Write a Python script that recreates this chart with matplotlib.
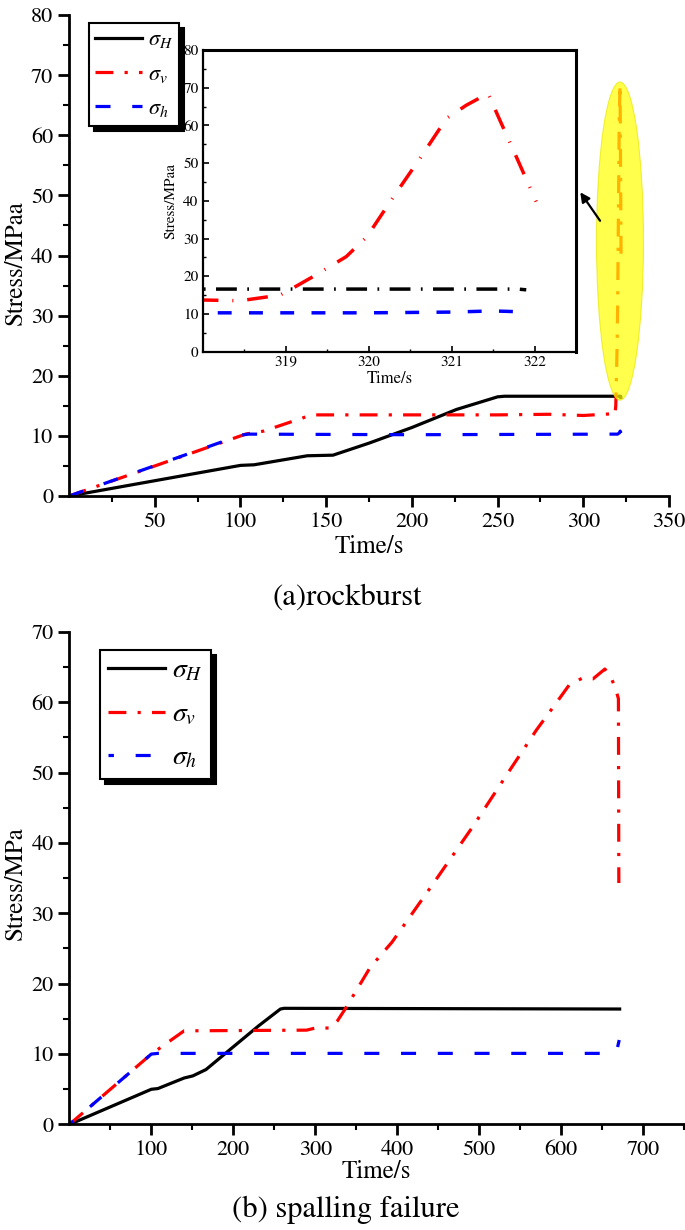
"""
Stress paths for the rockburst and spalling failure tests
Output: out.png
"""

import matplotlib.pyplot as plt
from matplotlib.patches import Ellipse

# Times-like text: STIX ships with matplotlib
plt.rcParams['font.family'] = ['STIXGeneral', 'Liberation Serif', 'DejaVu Serif']
plt.rcParams['mathtext.fontset'] = 'stix'

# ---------- (a) rockburst ----------
a_t_H = [0, 100, 108, 139, 154, 175, 200, 226, 250, 254, 318, 321.8, 321.9]
a_H = [0, 5.1, 5.2, 6.7, 6.8, 8.8, 11.4, 14.4, 16.5, 16.6, 16.6, 16.6, 16.4]

a_t_v = [0, 103, 113.5, 141.6, 200, 250, 280, 300, 318.0, 318.45, 318.93, 319.05,
         319.33, 319.73, 319.98, 320.30, 320.62, 320.94, 321.18, 321.44, 321.58,
         321.78, 322.02]
a_v = [0, 10.3, 10.8, 13.5, 13.5, 13.5, 13.6, 13.4, 13.7, 13.5, 15.0, 16.4,
       19.9, 25.2, 30.5, 41.1, 51.3, 61.9, 65.4, 68.5, 61.5, 51.7, 39.8]

a_t_h = [0, 100, 104.5, 200, 318.0, 319.0, 320.0, 321.0, 321.5, 321.94]
a_h = [0, 10.1, 10.3, 10.2, 10.3, 10.3, 10.3, 10.5, 10.8, 10.5]

# ---------- (b) spalling failure ----------
b_t_H = [0, 100, 108, 140, 150.6, 166.7, 198.7, 230.8, 257.5, 262, 671.5]
b_H = [0, 5.0, 5.1, 6.6, 6.9, 7.8, 10.9, 14.0, 16.4, 16.5, 16.4]

b_t_v = [0, 100, 140, 289.5, 300, 319, 327, 337.6, 367, 393.7, 441.5, 492.2,
         535, 569.7, 593.6, 609.7, 625.7, 639, 653.5, 660.4, 665.7, 670, 670.5]
b_v = [0, 10.0, 13.3, 13.4, 13.7, 13.7, 14.7, 16.6, 22.3, 25.9, 33.8, 42.3,
       49.9, 56.0, 59.8, 62.4, 63.4, 63.3, 64.7, 63.6, 62.2, 60.5, 34.3]

b_t_h = [0, 100, 108, 665, 669, 671]
b_h = [0, 10.0, 10.1, 10.1, 11.0, 12.0]

labels = [r'$\sigma_H$', r'$\sigma_v$', r'$\sigma_h$']

LW = 2.3
ls_H = '-'
ls_v = (0, (5.6, 3.5, 1, 3.5))
ls_h = (0, (4.7, 6.8))

fig = plt.figure(figsize=(6.85, 12.3), dpi=100)


def style_main(ax):
    for s in ['top', 'right']:
        ax.spines[s].set_visible(False)
    for s in ['left', 'bottom']:
        ax.spines[s].set_linewidth(2)
    ax.tick_params(which='major', direction='out', length=8, width=2, labelsize=16)
    ax.tick_params(which='minor', direction='out', length=4, width=1.5)


def add_legend(ax, anchor, fs, hl, sp):
    leg = ax.legend(labels, loc='upper left', bbox_to_anchor=anchor, borderaxespad=0,
                    fontsize=fs, handlelength=hl, fancybox=False, frameon=True,
                    edgecolor='black', framealpha=1, labelspacing=sp,
                    handletextpad=0.25, borderpad=0.3,
                    shadow={'ox': 3.5, 'oy': -3.5, 'color': 'black', 'alpha': 1})
    leg.get_frame().set_linewidth(1.5)
    return leg


# ========== Panel (a) ==========
ax1 = fig.add_axes([0.1007, 0.5967, 0.876, 0.3911])
ax1.plot(a_t_H, a_H, color='black', lw=LW, ls=ls_H)
ax1.plot(a_t_v, a_v, color='red', lw=LW, ls=ls_v)
ax1.plot(a_t_h, a_h, color='blue', lw=LW, ls=ls_h)
ax1.set_xlim(0, 350)
ax1.set_ylim(0, 80)
ax1.set_xticks(range(50, 351, 50))
ax1.set_xticks(range(25, 351, 50), minor=True)
ax1.set_yticks(range(0, 81, 10))
ax1.set_yticks(range(5, 80, 10), minor=True)
style_main(ax1)
ax1.set_xlabel('Time/s', fontsize=18, labelpad=2)
ax1.set_ylabel('Stress/MPaa', fontsize=18)
ax1.yaxis.set_label_coords(-0.068, 0.485)
add_legend(ax1, (0.033, 0.983), 16, 2.1, 0.62)

# highlight of the failure moment
ax1.add_patch(Ellipse((321.4, 42.4), 27.4, 52.9, facecolor='#ffff00', edgecolor='#e8e800',
                      lw=0.8, alpha=0.7, zorder=5))
ax1.annotate('', xy=(297.3, 50.9), xytext=(310.7, 45.4),
             arrowprops=dict(arrowstyle='-|>', color='black', lw=1.6, mutation_scale=14),
             annotation_clip=False, zorder=6)

# inset: zoom on the peak
axi = fig.add_axes([0.2959, 0.7141, 0.545, 0.2452])
axi.plot(a_t_H, a_H, color='black', lw=2.5, ls=(0, (6, 3, 0.5, 3)))
axi.plot(a_t_v, a_v, color='red', lw=2.5, ls=(0, (6, 4, 0.3, 4)))
axi.plot(a_t_h, a_h, color='blue', lw=2.5, ls=(0, (4, 5)))
axi.set_xlim(318.0, 322.5)
axi.set_ylim(0, 80)
axi.set_xticks([319, 320, 321, 322])
axi.set_xticks([318.5, 319.5, 320.5, 321.5, 322.5], minor=True)
axi.set_yticks(range(0, 81, 10))
axi.set_yticks(range(5, 80, 10), minor=True)
axi.tick_params(which='major', direction='in', length=4, width=1.2, labelsize=11, pad=3)
axi.tick_params(which='minor', direction='in', length=2.5, width=1.0)
for s in ['left', 'bottom']:
    axi.spines[s].set_linewidth(1.6)
for s in ['top', 'right']:
    axi.spines[s].set_linewidth(2.2)
axi.set_xlabel('Time/s', fontsize=12, labelpad=1)
axi.set_ylabel('Stress/MPaa', fontsize=11, labelpad=4)

fig.text(0.507, 0.5138, '(a)rockburst', ha='center', va='center', fontsize=22)

# ========== Panel (b) ==========
ax2 = fig.add_axes([0.1013, 0.0858, 0.8972, 0.4006])
ax2.plot(b_t_H, b_H, color='black', lw=LW, ls=ls_H)
ax2.plot(b_t_v, b_v, color='red', lw=LW, ls=ls_v)
ax2.plot(b_t_h, b_h, color='blue', lw=LW, ls=(3.0, (4.7, 6.8)))
ax2.set_xlim(0, 747)
ax2.set_ylim(0, 70)
ax2.set_xticks(range(100, 701, 100))
ax2.set_xticks(range(50, 751, 100), minor=True)
ax2.set_yticks(range(0, 71, 10))
ax2.set_yticks(range(5, 70, 10), minor=True)
style_main(ax2)
ax2.set_xlabel('Time/s', fontsize=18, labelpad=0)
ax2.set_ylabel('Stress/MPa', fontsize=18)
ax2.yaxis.set_label_coords(-0.067, 0.49)
add_legend(ax2, (0.05, 0.963), 20, 2.05, 0.65)

fig.text(0.505, 0.0163, '(b) spalling failure', ha='center', va='center', fontsize=22)

plt.savefig('out.png', dpi=100, facecolor='white')
print("Generated: out.png")
